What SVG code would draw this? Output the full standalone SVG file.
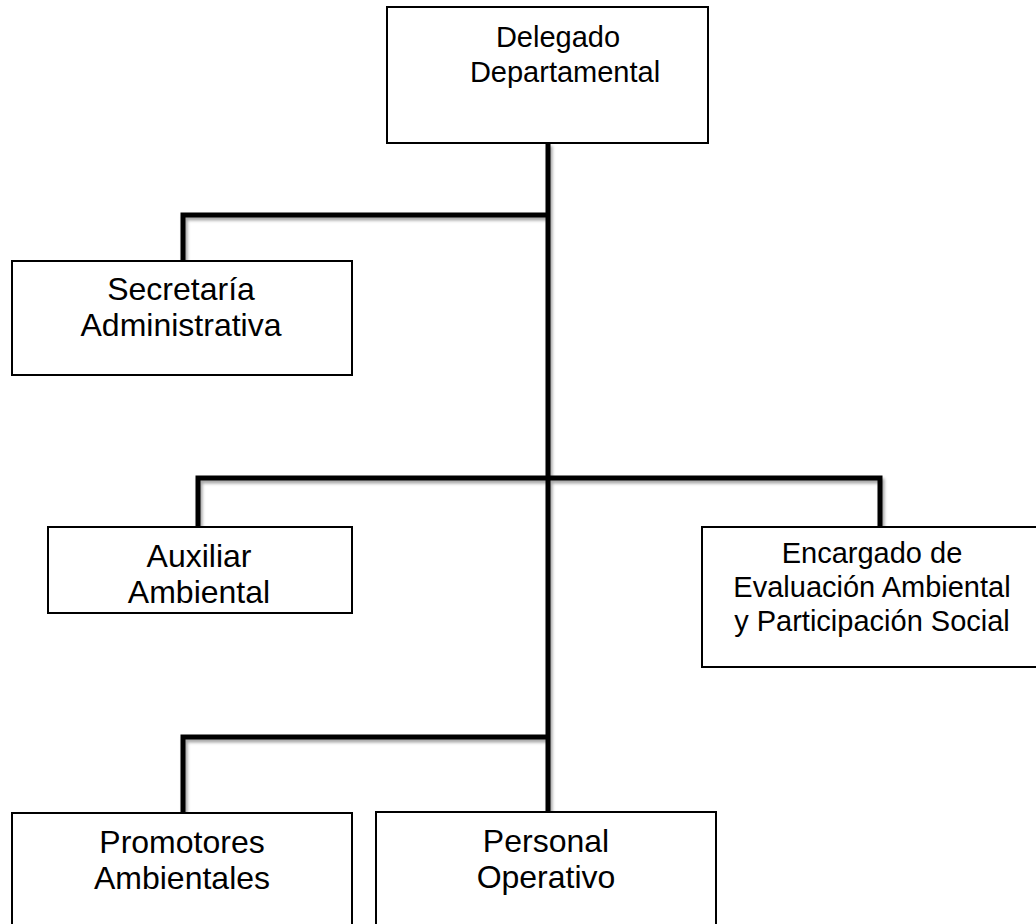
<svg xmlns="http://www.w3.org/2000/svg" width="1036" height="924" viewBox="0 0 1036 924">
  <style>
    .box { fill: #ffffff; stroke: #000000; stroke-width: 2; }
    .lbl { font-family: "Liberation Sans", Arial, sans-serif; font-size: 29px; fill: #000000; text-anchor: middle; }
    .big { font-size: 32px; }
    .conn { fill: none; stroke: #000000; stroke-width: 5; stroke-linejoin: miter; stroke-linecap: butt; }
  </style>
  <defs>
    <filter id="shadow" x="-5%" y="-5%" width="110%" height="110%">
      <feDropShadow dx="2" dy="3" stdDeviation="1.5" flood-color="#000000" flood-opacity="0.35"/>
    </filter>
  </defs>
  <rect width="1036" height="924" fill="#ffffff"/>

  <g id="connectors" filter="url(#shadow)">
    <path class="conn" d="M548,143 V812"/>
    <path class="conn" d="M183,261 V215 H548"/>
    <path class="conn" d="M198,527 V478 H880 V527"/>
    <path class="conn" d="M183,813 V737 H548"/>
  </g>

  <g id="delegado">
    <rect class="box" x="387" y="7" width="321" height="136"/>
    <text class="lbl" x="558" y="47">Delegado</text>
    <text class="lbl" x="565" y="82">Departamental</text>
  </g>

  <g id="secretaria">
    <rect class="box" x="12" y="261" width="340" height="114"/>
    <text class="lbl big" x="181" y="300">Secretaría</text>
    <text class="lbl big" x="181" y="336">Administrativa</text>
  </g>

  <g id="auxiliar">
    <rect class="box" x="48" y="527" width="304" height="86"/>
    <text class="lbl big" x="199" y="567">Auxiliar</text>
    <text class="lbl big" x="199" y="603">Ambiental</text>
  </g>

  <g id="encargado">
    <rect class="box" x="702" y="527" width="340" height="140"/>
    <text class="lbl" x="872" y="563">Encargado de</text>
    <text class="lbl" x="872" y="597">Evaluación Ambiental</text>
    <text class="lbl" x="872" y="631">y Participación Social</text>
  </g>

  <g id="promotores">
    <rect class="box" x="12" y="813" width="340" height="130"/>
    <text class="lbl big" x="182" y="853">Promotores</text>
    <text class="lbl big" x="182" y="889">Ambientales</text>
  </g>

  <g id="personal">
    <rect class="box" x="376" y="812" width="340" height="130"/>
    <text class="lbl big" x="546" y="852">Personal</text>
    <text class="lbl big" x="546" y="888">Operativo</text>
  </g>
</svg>
